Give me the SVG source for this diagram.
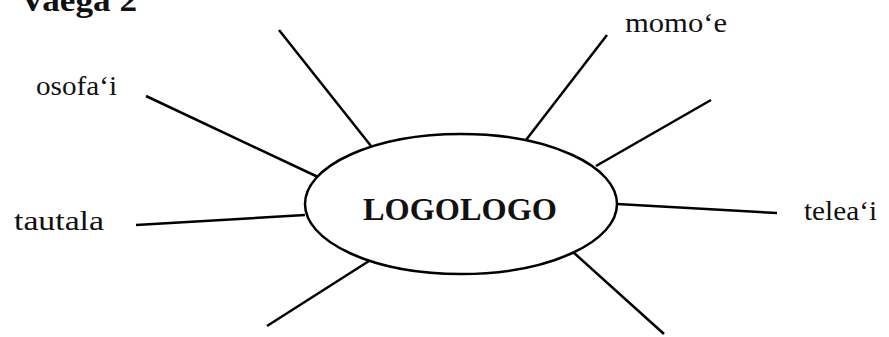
<svg xmlns="http://www.w3.org/2000/svg" width="889" height="337" viewBox="0 0 889 337">
<style>
.t{font-family:"Liberation Serif","Times New Roman",serif;font-size:27px;fill:#111}
.b{font-family:"Liberation Serif","Times New Roman",serif;font-weight:bold;fill:#111}
.c line{stroke:#000;stroke-width:2.5;stroke-linecap:butt}
</style>
<rect width="889" height="337" fill="#fff"/>
<text class="b" x="20" y="11" font-size="31" textLength="117" lengthAdjust="spacingAndGlyphs">Vaega 2</text>
<g id="connectors" class="c">
<line x1="279" y1="30" x2="371" y2="146"/>
<line x1="146" y1="96" x2="318" y2="177"/>
<line x1="136" y1="225" x2="305" y2="215"/>
<line x1="607" y1="35" x2="526" y2="140"/>
<line x1="711" y1="100" x2="596" y2="166"/>
<line x1="617" y1="204" x2="777" y2="213"/>
<line x1="267" y1="326" x2="369" y2="261"/>
<line x1="573" y1="252" x2="664" y2="334"/>
</g>
<g id="center">
<ellipse cx="461" cy="204" rx="156" ry="70" fill="#fff" stroke="#000" stroke-width="2.5"/>
<text class="b" x="363" y="220" font-size="31" textLength="194" lengthAdjust="spacingAndGlyphs">LOGOLOGO</text>
</g>
<g id="osofai"><text class="t" x="36" y="95" textLength="81" lengthAdjust="spacingAndGlyphs">osofa‘i</text></g>
<g id="tautala"><text class="t" x="14" y="230" textLength="90" lengthAdjust="spacingAndGlyphs">tautala</text></g>
<g id="momoe"><text class="t" x="625" y="32" textLength="102" lengthAdjust="spacingAndGlyphs">momo‘e</text></g>
<g id="teleai"><text class="t" x="804" y="220" textLength="73" lengthAdjust="spacingAndGlyphs">telea‘i</text></g>
</svg>
